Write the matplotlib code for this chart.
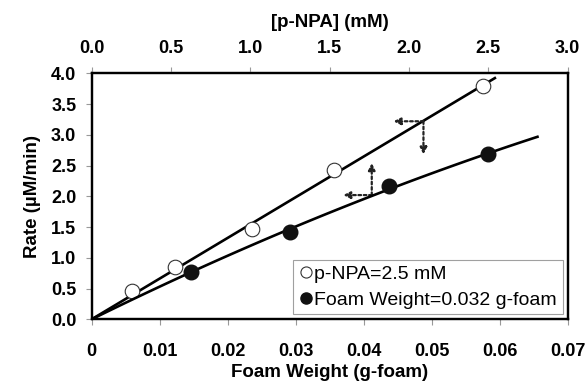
import matplotlib.pyplot as plt
import numpy as np

plt.rcParams["font.family"] = ["Liberation Sans", "DejaVu Sans"]

# open circles: p-NPA = 2.5 mM, varying foam weight (bottom axis)
foam_w = [0.006, 0.0122, 0.0236, 0.0357, 0.0576]
rate_foam = [0.46, 0.845, 1.47, 2.43, 3.79]
# filled circles: foam weight = 0.032 g, varying p-NPA (top axis)
pnpa = [0.625, 1.25, 1.875, 2.5]
rate_pnpa = [0.775, 1.42, 2.17, 2.68]
# trendline extents
foam_line_end = 0.0593
pnpa_line_end = 2.81
# dotted guide arrows (bottom-axis coords): (x0, y0, x1, y1)
arrows = [(0.0488, 3.22, 0.0444, 3.22), (0.0488, 3.22, 0.0488, 2.68),
          (0.0412, 2.02, 0.0412, 2.54), (0.0412, 2.02, 0.0370, 2.02)]

fig = plt.figure(figsize=(5.87, 3.85), dpi=100)
ax = fig.add_axes([0.156, 0.1706, 0.811, 0.639])
ax2 = ax.twiny()

# linear fit through origin for open series
x = np.array(foam_w); y = np.array(rate_foam)
k = (x * y).sum() / (x * x).sum()
xl = np.linspace(0, foam_line_end, 50)
ax.plot(xl, k * xl, color="black", lw=1.9, zorder=2)
ax.plot(foam_w, rate_foam, "o", ms=10.5, mfc="white", mec="#333333", mew=0.8, zorder=3)

# quadratic fit through origin for filled series
p = np.array(pnpa); r = np.array(rate_pnpa)
A = np.column_stack([p, p ** 2])
coef = np.linalg.lstsq(A, r, rcond=None)[0]
pl = np.linspace(0, pnpa_line_end, 80)
ax2.plot(pl, coef[0] * pl + coef[1] * pl ** 2, color="black", lw=1.9, zorder=2)
ax2.plot(pnpa, rate_pnpa, "o", ms=10.5, color="#111111", zorder=3)

for x0, y0, x1, y1 in arrows:
    ax.annotate("", xy=(x1, y1), xytext=(x0, y0),
                arrowprops=dict(arrowstyle="-|>", ls=(0, (1.2, 1.2)), lw=1.6, color="#222222",
                                mutation_scale=10, shrinkA=0, shrinkB=0))

ax.set_xlim(0, 0.07); ax.set_ylim(0, 4.0)
ax2.set_xlim(0, 3.0)
ax.set_xticks(np.arange(0, 0.071, 0.01))
ax.set_xticklabels(["0"] + [f"{v:.2f}" for v in np.arange(0.01, 0.071, 0.01)])
ax.set_yticks(np.arange(0, 4.01, 0.5))
ax.set_yticklabels([f"{v:.1f}" for v in np.arange(0, 4.01, 0.5)])
ax2.set_xticks(np.arange(0, 3.01, 0.5))
ax2.set_xticklabels([f"{v:.1f}" for v in np.arange(0, 3.01, 0.5)])

for a in (ax, ax2):
    for s in a.spines.values():
        s.set_linewidth(1.6)
    a.tick_params(direction="out", length=4, width=0.8, color="#999999", labelsize=13)
    for t in a.get_xticklabels() + a.get_yticklabels():
        t.set_fontweight("bold")
ax.tick_params(axis="x", pad=13)
ax.tick_params(axis="y", pad=7)
ax2.tick_params(axis="x", pad=8)

ax.set_xlabel("Foam Weight (g-foam)", fontsize=13.5, fontweight="bold", labelpad=3)
ax.set_ylabel("Rate (\u00b5M/min)", fontsize=13.5, fontweight="bold", labelpad=7)
ax2.set_xlabel("[p-NPA] (mM)", fontsize=13.5, fontweight="bold", labelpad=9)

h1 = plt.Line2D([], [], ls="none", marker="o", ms=8, mfc="white", mec="#333333", mew=0.8)
h2 = plt.Line2D([], [], ls="none", marker="o", ms=8, color="#111111")
leg = ax.legend([h1, h2], ["p-NPA=2.5 mM", "Foam Weight=0.032 g-foam"], loc="lower right",
                fontsize=14, frameon=True, fancybox=False, handletextpad=0.1, handlelength=0.7,
                borderpad=0.3, labelspacing=0.4, borderaxespad=0.25)
leg.get_frame().set_edgecolor("#888888"); leg.get_frame().set_linewidth(0.8)

fig.savefig("out.png", dpi=100)
